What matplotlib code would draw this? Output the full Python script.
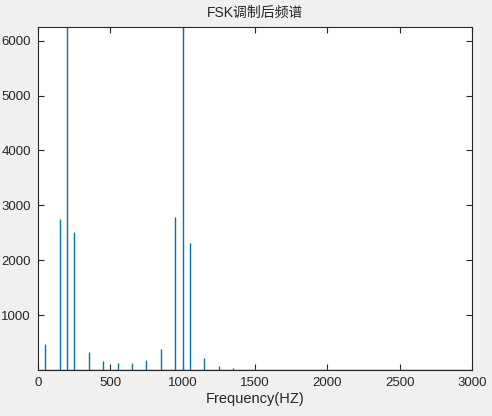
import matplotlib.pyplot as plt

# spectrum peaks (Hz, magnitude)
freqs = [50, 150, 200, 250, 350, 450, 550, 650, 750, 850, 950, 1000, 1050, 1150, 1250, 1350]
amps = [474, 2743, 6250, 2511, 321, 157, 120, 128, 175, 383, 2785, 6250, 2318, 212, 66, 30]

x_range = [0, 3000]
y_range = [0, 6250]
xticks = [0, 500, 1000, 1500, 2000, 2500, 3000]
yticks = [1000, 2000, 3000, 4000, 5000, 6000]

plt.rcParams['font.family'] = ['Liberation Sans', 'Noto Sans CJK SC', 'DejaVu Sans']

fig = plt.figure(figsize=(4.92, 4.16), dpi=100, facecolor='#f0f0f0')
ax = fig.add_axes([0.0772, 0.1106, 0.8821, 0.8245])
ax.set_facecolor('white')

line_color = '#0072BD'
ax.vlines(freqs, 0, amps, color=line_color, linewidth=1.0)
ax.plot(x_range, [0, 0], color=line_color, linewidth=1.0)

ax.set_xlim(x_range)
ax.set_ylim(y_range)
ax.set_xticks(xticks)
ax.set_yticks(yticks)
ax.tick_params(direction='in', top=True, right=True, length=4, width=0.8,
               colors='#262626', labelsize=9.5, pad=5)
for s in ax.spines.values():
    s.set_color('#262626')
    s.set_linewidth(0.8)

ax.set_title('FSK调制后频谱', fontsize=10, color='#262626', pad=7)
ax.set_xlabel('Frequency(HZ)', fontsize=10.5, color='#262626', labelpad=2)

fig.savefig('out.png', dpi=100, facecolor=fig.get_facecolor())
